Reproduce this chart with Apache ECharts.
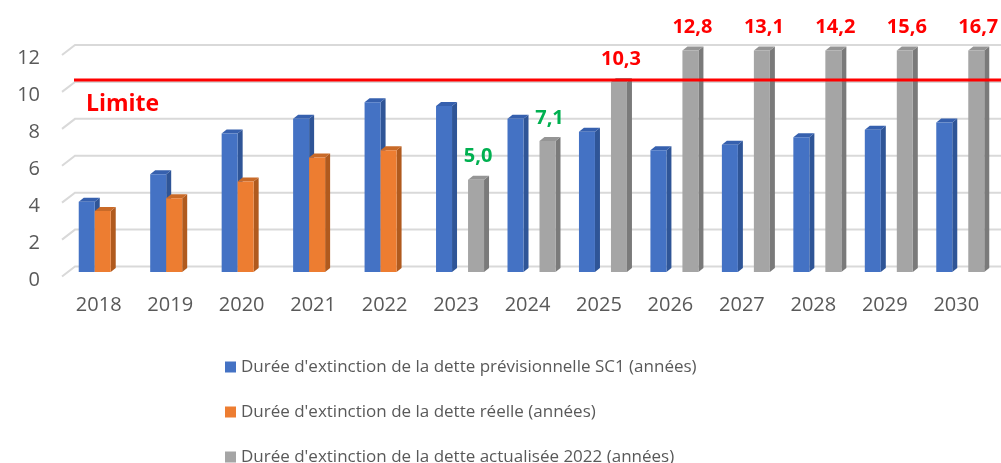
<!DOCTYPE html>
<html>
<head>
<meta charset="utf-8">
<script src="https://cdn.jsdelivr.net/npm/echarts@6/dist/echarts.min.js"></script>
<style>
    html, body { margin: 0; padding: 0; background: #fff; }
    #container { width: 1001px; height: 463px; }
</style>
</head>
<body>
<div id="container"></div>
<script>
    // données
    var years = ['2018','2019','2020','2021','2022','2023','2024','2025','2026','2027','2028','2029','2030'];
    var previsionnelle = [3.8, 5.3, 7.5, 8.3, 9.2, 9.0, 8.3, 7.6, 6.6, 6.9, 7.3, 7.7, 8.1];
    var reelle = [3.3, 4.0, 4.9, 6.2, 6.6, null, null, null, null, null, null, null, null];
    var actualisee = [null, null, null, null, null, 5.0, 7.1, 10.3, 12.8, 13.1, 14.2, 15.6, 16.7];
    var yTicks = [0, 2, 4, 6, 8, 10, 12];
    var limite = 10.1;
    var yMax = 12;

    var names = [
        "Durée d'extinction de la dette prévisionnelle SC1 (années)",
        "Durée d'extinction de la dette réelle (années)",
        "Durée d'extinction de la dette actualisée 2022 (années)"
    ];
    var font = "'Open Sans', sans-serif";

    // barre pseudo 3D : face avant + côté + dessus
    function barRender(slot, front, side, top, withLabel) {
        return function (params, api) {
            var v = api.value(1);
            if (v == null || isNaN(v)) return;
            var base = api.coord([api.value(0), 0]);
            var t = api.coord([api.value(0), Math.min(v, yMax)]);
            var w = 16, dx = 5, dy = 4;
            var x = base[0] - 20 + w * slot;
            var yb = base[1] + 5.5, yt = t[1] + 5.5;
            var children = [
                { type: 'polygon', shape: { points: [[x + w, yb], [x + w, yt], [x + w + dx, yt - dy], [x + w + dx, yb - dy]] }, style: { fill: side } },
                { type: 'polygon', shape: { points: [[x, yt], [x + w, yt], [x + w + dx, yt - dy], [x + dx, yt - dy]] }, style: { fill: top } },
                { type: 'rect', shape: { x: x, y: yt, width: w, height: yb - yt }, style: { fill: front } }
            ];
            if (withLabel) {
                children.push({
                    type: 'text',
                    style: {
                        text: v.toFixed(1).replace('.', ','),
                        x: x + w / 2 + 2, y: yt - 23,
                        align: 'center', verticalAlign: 'middle',
                        font: 'bold 20px ' + font,
                        fill: v > limite ? '#FF0000' : '#00B050'
                    }
                });
            }
            return { type: 'group', children: children };
        };
    }

    function toData(arr) {
        return arr.map(function (v, i) { return [i, v]; });
    }

    // une légende par ligne
    function legendRow(k, top) {
        return {
            left: 225, top: top,
            padding: 0,
            itemWidth: 11, itemHeight: 11,
            icon: 'rect',
            data: [names[k]],
            textStyle: { color: '#595959', fontSize: 17, fontFamily: font, lineHeight: 20 }
        };
    }

    var myChart = echarts.init(document.getElementById('container'));
    var option = {
        animation: false,
        grid: { left: 63, right: 9, top: 45, height: 221.5 },
        legend: [legendRow(0, 357), legendRow(1, 402), legendRow(2, 447)],
        xAxis: {
            type: 'category',
            data: years,
            axisLine: { show: false },
            axisTick: { show: false },
            axisLabel: { color: '#595959', fontSize: 20, fontFamily: font, margin: 29 }
        },
        yAxis: {
            type: 'value',
            min: 0, max: yMax, interval: 2,
            splitLine: { show: false },
            axisLabel: { color: '#595959', fontSize: 20, fontFamily: font, margin: 23, verticalAlign: 'top', lineHeight: 27 }
        },
        series: [
            {
                // quadrillage en perspective
                type: 'custom', silent: true, z: 1,
                data: yTicks.map(function (v) { return [0, v]; }),
                renderItem: function (params, api) {
                    var y = api.coord([0, api.value(1)])[1];
                    var x0 = params.coordSys.x, x1 = params.coordSys.x + params.coordSys.width + 9;
                    return { type: 'polyline', shape: { points: [[x0 - 1, y + 10], [x0 + 12, y], [x1, y]] }, style: { stroke: '#D9D9D9', lineWidth: 2, fill: null } };
                }
            },
            {
                name: names[0], type: 'custom', z: 3,
                itemStyle: { color: '#4472C4' },
                data: toData(previsionnelle),
                renderItem: barRender(0, '#4472C4', '#2F5597', '#3660AE', false)
            },
            {
                name: names[1], type: 'custom', z: 3,
                itemStyle: { color: '#ED7D31' },
                data: toData(reelle),
                renderItem: barRender(1, '#ED7D31', '#B05A1E', '#C96A28', false)
            },
            {
                name: names[2], type: 'custom', z: 3,
                itemStyle: { color: '#A5A5A5' },
                data: toData(actualisee),
                renderItem: barRender(2, '#A5A5A5', '#7A7A7A', '#959595', true)
            },
            {
                // ligne limite
                type: 'custom', silent: true, z: 5,
                data: [[0, limite]],
                renderItem: function (params, api) {
                    var y = api.coord([0, api.value(1)])[1];
                    var x0 = params.coordSys.x, x1 = params.coordSys.x + params.coordSys.width + 9;
                    return {
                        type: 'group',
                        children: [
                            { type: 'line', shape: { x1: x0 + 11, y1: y, x2: x1, y2: y }, style: { stroke: '#FF0000', lineWidth: 3 } },
                            { type: 'text', style: { text: 'Limite', x: x0 + 23, y: y + 24, verticalAlign: 'middle', font: 'bold 23px ' + font, fill: '#FF0000' } }
                        ]
                    };
                }
            }
        ]
    };
    myChart.setOption(option);
</script>
</body>
</html>
